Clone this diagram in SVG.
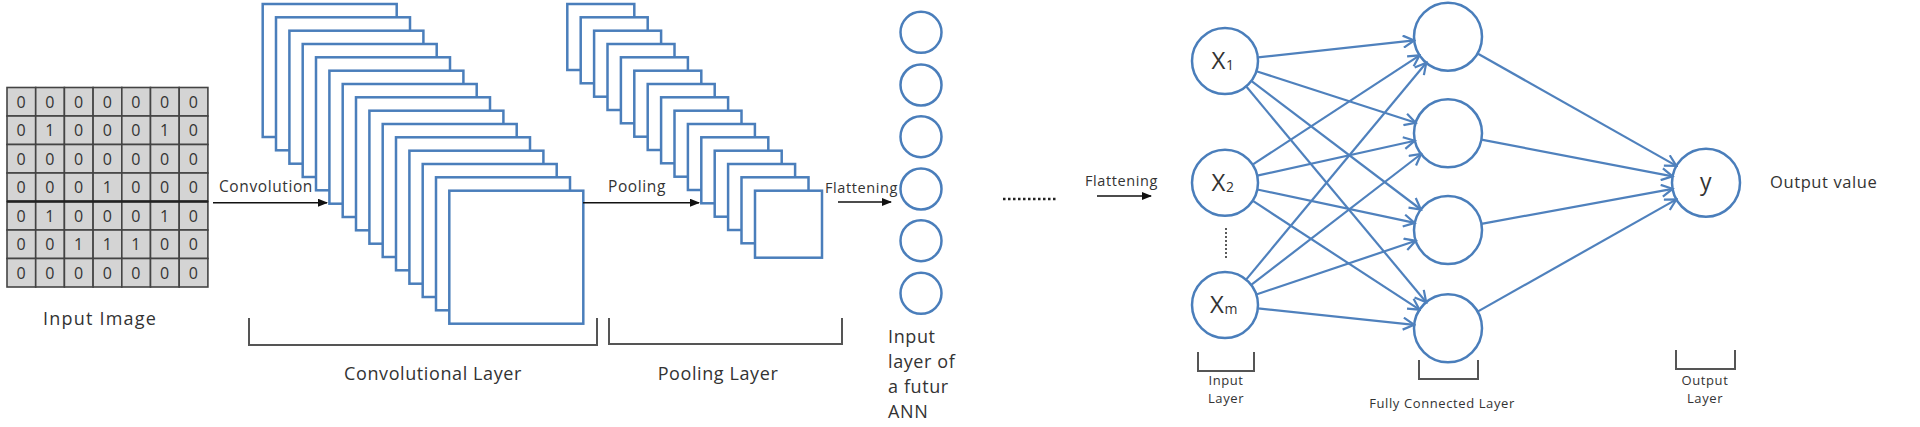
<svg xmlns="http://www.w3.org/2000/svg" width="1920" height="427" viewBox="0 0 1920 427">
<defs>
<style>
text{font-family:"Open Sans","Liberation Sans",sans-serif;fill:#333;letter-spacing:0.6px}
.cell{fill:#d4d4d4;stroke:#444;stroke-width:1.6}
.dg{font-size:16px;text-anchor:middle}
.fm{fill:#fff;stroke:#4a7ebb;stroke-width:2.5}
.nd{fill:#fff;stroke:#4a7ebb;stroke-width:2.5}
.br{fill:none;stroke:#555;stroke-width:2}
.blk{stroke:#111;stroke-width:1.6;fill:none;marker-end:url(#tri)}
.ed{stroke:#4f81bd;stroke-width:2.2;fill:none;marker-end:url(#chev)}
.lab{font-size:18px;text-anchor:middle}
.sm{font-size:13px;text-anchor:middle}
</style>
<marker id="tri" markerWidth="10" markerHeight="8" refX="9" refY="4" orient="auto" markerUnits="userSpaceOnUse"><path d="M0,0 L10,4 L0,8 Z" fill="#111"/></marker>
<marker id="chev" markerWidth="14" markerHeight="14" refX="12" refY="7" orient="auto" markerUnits="userSpaceOnUse"><path d="M1,1 L12,7 L1,13" fill="none" stroke="#4f81bd" stroke-width="2.2"/></marker>
</defs>
<rect width="1920" height="427" fill="#fff"/>

<g id="input-image">
<g id="grid">
<rect class="cell" x="7" y="87.5" width="28.7" height="28.5"/><rect class="cell" x="35.7" y="87.5" width="28.7" height="28.5"/><rect class="cell" x="64.4" y="87.5" width="28.7" height="28.5"/><rect class="cell" x="93.1" y="87.5" width="28.7" height="28.5"/><rect class="cell" x="121.8" y="87.5" width="28.7" height="28.5"/><rect class="cell" x="150.5" y="87.5" width="28.7" height="28.5"/><rect class="cell" x="179.2" y="87.5" width="28.7" height="28.5"/>
<rect class="cell" x="7" y="116" width="28.7" height="28.5"/><rect class="cell" x="35.7" y="116" width="28.7" height="28.5"/><rect class="cell" x="64.4" y="116" width="28.7" height="28.5"/><rect class="cell" x="93.1" y="116" width="28.7" height="28.5"/><rect class="cell" x="121.8" y="116" width="28.7" height="28.5"/><rect class="cell" x="150.5" y="116" width="28.7" height="28.5"/><rect class="cell" x="179.2" y="116" width="28.7" height="28.5"/>
<rect class="cell" x="7" y="144.5" width="28.7" height="28.5"/><rect class="cell" x="35.7" y="144.5" width="28.7" height="28.5"/><rect class="cell" x="64.4" y="144.5" width="28.7" height="28.5"/><rect class="cell" x="93.1" y="144.5" width="28.7" height="28.5"/><rect class="cell" x="121.8" y="144.5" width="28.7" height="28.5"/><rect class="cell" x="150.5" y="144.5" width="28.7" height="28.5"/><rect class="cell" x="179.2" y="144.5" width="28.7" height="28.5"/>
<rect class="cell" x="7" y="173" width="28.7" height="28.5"/><rect class="cell" x="35.7" y="173" width="28.7" height="28.5"/><rect class="cell" x="64.4" y="173" width="28.7" height="28.5"/><rect class="cell" x="93.1" y="173" width="28.7" height="28.5"/><rect class="cell" x="121.8" y="173" width="28.7" height="28.5"/><rect class="cell" x="150.5" y="173" width="28.7" height="28.5"/><rect class="cell" x="179.2" y="173" width="28.7" height="28.5"/>
<rect class="cell" x="7" y="201.5" width="28.7" height="28.5"/><rect class="cell" x="35.7" y="201.5" width="28.7" height="28.5"/><rect class="cell" x="64.4" y="201.5" width="28.7" height="28.5"/><rect class="cell" x="93.1" y="201.5" width="28.7" height="28.5"/><rect class="cell" x="121.8" y="201.5" width="28.7" height="28.5"/><rect class="cell" x="150.5" y="201.5" width="28.7" height="28.5"/><rect class="cell" x="179.2" y="201.5" width="28.7" height="28.5"/>
<rect class="cell" x="7" y="230" width="28.7" height="28.5"/><rect class="cell" x="35.7" y="230" width="28.7" height="28.5"/><rect class="cell" x="64.4" y="230" width="28.7" height="28.5"/><rect class="cell" x="93.1" y="230" width="28.7" height="28.5"/><rect class="cell" x="121.8" y="230" width="28.7" height="28.5"/><rect class="cell" x="150.5" y="230" width="28.7" height="28.5"/><rect class="cell" x="179.2" y="230" width="28.7" height="28.5"/>
<rect class="cell" x="7" y="258.5" width="28.7" height="28.5"/><rect class="cell" x="35.7" y="258.5" width="28.7" height="28.5"/><rect class="cell" x="64.4" y="258.5" width="28.7" height="28.5"/><rect class="cell" x="93.1" y="258.5" width="28.7" height="28.5"/><rect class="cell" x="121.8" y="258.5" width="28.7" height="28.5"/><rect class="cell" x="150.5" y="258.5" width="28.7" height="28.5"/><rect class="cell" x="179.2" y="258.5" width="28.7" height="28.5"/>
<line x1="7" y1="201.5" x2="208" y2="201.5" stroke="#222" stroke-width="2.4"/>
</g>
<g class="dg">
<text x="21.4" y="107.5">0</text><text x="50.1" y="107.5">0</text><text x="78.8" y="107.5">0</text><text x="107.5" y="107.5">0</text><text x="136.2" y="107.5">0</text><text x="164.9" y="107.5">0</text><text x="193.6" y="107.5">0</text>
<text x="21.4" y="136">0</text><text x="50.1" y="136">1</text><text x="78.8" y="136">0</text><text x="107.5" y="136">0</text><text x="136.2" y="136">0</text><text x="164.9" y="136">1</text><text x="193.6" y="136">0</text>
<text x="21.4" y="164.5">0</text><text x="50.1" y="164.5">0</text><text x="78.8" y="164.5">0</text><text x="107.5" y="164.5">0</text><text x="136.2" y="164.5">0</text><text x="164.9" y="164.5">0</text><text x="193.6" y="164.5">0</text>
<text x="21.4" y="193">0</text><text x="50.1" y="193">0</text><text x="78.8" y="193">0</text><text x="107.5" y="193">1</text><text x="136.2" y="193">0</text><text x="164.9" y="193">0</text><text x="193.6" y="193">0</text>
<text x="21.4" y="221.5">0</text><text x="50.1" y="221.5">1</text><text x="78.8" y="221.5">0</text><text x="107.5" y="221.5">0</text><text x="136.2" y="221.5">0</text><text x="164.9" y="221.5">1</text><text x="193.6" y="221.5">0</text>
<text x="21.4" y="250">0</text><text x="50.1" y="250">0</text><text x="78.8" y="250">1</text><text x="107.5" y="250">1</text><text x="136.2" y="250">1</text><text x="164.9" y="250">0</text><text x="193.6" y="250">0</text>
<text x="21.4" y="278.5">0</text><text x="50.1" y="278.5">0</text><text x="78.8" y="278.5">0</text><text x="107.5" y="278.5">0</text><text x="136.2" y="278.5">0</text><text x="164.9" y="278.5">0</text><text x="193.6" y="278.5">0</text>
</g>
<text class="lab" x="100" y="325" style="letter-spacing:1.2px">Input Image</text>
</g>

<g id="conv-layer">
<rect class="fm" x="262.7" y="4" width="134" height="133"/>
<rect class="fm" x="276" y="17.3" width="134" height="133"/>
<rect class="fm" x="289.4" y="30.7" width="134" height="133"/>
<rect class="fm" x="302.7" y="44" width="134" height="133"/>
<rect class="fm" x="316" y="57.3" width="134" height="133"/>
<rect class="fm" x="329.4" y="70.7" width="134" height="133"/>
<rect class="fm" x="342.7" y="84" width="134" height="133"/>
<rect class="fm" x="356" y="97.3" width="134" height="133"/>
<rect class="fm" x="369.4" y="110.7" width="134" height="133"/>
<rect class="fm" x="382.7" y="124" width="134" height="133"/>
<rect class="fm" x="396" y="137.3" width="134" height="133"/>
<rect class="fm" x="409.4" y="150.7" width="134" height="133"/>
<rect class="fm" x="422.7" y="164" width="134" height="133"/>
<rect class="fm" x="436" y="177.3" width="134" height="133"/>
<rect class="fm" x="449.3" y="190.7" width="134" height="133"/>
<path class="br" d="M249,318 V345 H597 V318"/>
<text class="lab" x="433" y="380">Convolutional Layer</text>
</g>

<g id="pooling-layer">
<rect class="fm" x="567.3" y="4" width="67" height="66"/>
<rect class="fm" x="580.7" y="17.3" width="67" height="66"/>
<rect class="fm" x="594.1" y="30.7" width="67" height="66"/>
<rect class="fm" x="607.5" y="44" width="67" height="66"/>
<rect class="fm" x="620.9" y="57.3" width="67" height="66"/>
<rect class="fm" x="634.3" y="70.7" width="67" height="66"/>
<rect class="fm" x="647.7" y="84" width="67" height="66"/>
<rect class="fm" x="661.1" y="97.3" width="67" height="66"/>
<rect class="fm" x="674.5" y="110.7" width="67" height="66"/>
<rect class="fm" x="687.9" y="124" width="67" height="66"/>
<rect class="fm" x="701.3" y="137.3" width="67" height="66"/>
<rect class="fm" x="714.7" y="150.7" width="67" height="66"/>
<rect class="fm" x="728.1" y="164" width="67" height="66"/>
<rect class="fm" x="741.5" y="177.3" width="67" height="66"/>
<rect class="fm" x="755" y="190.7" width="67" height="67"/>
<path class="br" d="M609,318 V344 H842 V318"/>
<text class="lab" x="718" y="380">Pooling Layer</text>
</g>

<g id="flattened-column">
<circle class="nd" cx="921" cy="32.3" r="20.5"/>
<circle class="nd" cx="921" cy="85" r="20.5"/>
<circle class="nd" cx="921" cy="136.7" r="20.5"/>
<circle class="nd" cx="921" cy="189" r="20.5"/>
<circle class="nd" cx="921" cy="240.7" r="20.5"/>
<circle class="nd" cx="921" cy="293.3" r="20.5"/>
<text font-size="18" x="888" y="343">Input</text>
<text font-size="18" x="888" y="368">layer of</text>
<text font-size="18" x="888" y="393">a futur</text>
<text font-size="18" x="888" y="418">ANN</text>
</g>

<g id="input-layer">
<g id="x1"><circle class="nd" cx="1225" cy="61" r="33"/><text x="1223" y="69" font-size="24" text-anchor="middle">X<tspan font-size="14" dy="1">1</tspan></text></g>
<g id="x2"><circle class="nd" cx="1225" cy="182.7" r="33"/><text x="1223" y="191" font-size="24" text-anchor="middle">X<tspan font-size="14" dy="1">2</tspan></text></g>
<g id="xm"><circle class="nd" cx="1225" cy="305" r="33"/><text x="1224" y="313" font-size="24" text-anchor="middle">X<tspan font-size="14" dy="1">m</tspan></text></g>
<line x1="1226" y1="228" x2="1226" y2="260" stroke="#333" stroke-width="1.6" stroke-dasharray="2 2"/>
<path class="br" d="M1198,352 V371 H1254 V352"/>
<text class="sm" x="1226" y="385">Input</text>
<text class="sm" x="1226" y="403">Layer</text>
</g>

<g id="hidden-layer">
<circle id="h1" class="nd" cx="1448" cy="36.7" r="34"/>
<circle id="h2" class="nd" cx="1448" cy="133.3" r="34"/>
<circle id="h3" class="nd" cx="1448" cy="230" r="34"/>
<circle id="h4" class="nd" cx="1448" cy="328.3" r="34"/>
<path class="br" d="M1419,360 V379 H1478 V360"/>
<text class="sm" x="1442" y="408">Fully Connected Layer</text>
</g>

<g id="output-layer">
<circle class="nd" cx="1706" cy="182.7" r="34"/>
<text x="1706" y="190" font-size="23" text-anchor="middle">y</text>
<text x="1770" y="188" font-size="16.5">Output value</text>
<path class="br" d="M1676,350 V369 H1735 V350"/>
<text class="sm" x="1705" y="385">Output</text>
<text class="sm" x="1705" y="403">Layer</text>
</g>

<g id="connectors">
<line class="blk" x1="213" y1="202.7" x2="327" y2="202.7"/>
<text x="219" y="192" font-size="15.5">Convolution</text>
<line class="blk" x1="583" y1="202.7" x2="699" y2="202.7"/>
<text x="608" y="192" font-size="15.5">Pooling</text>
<line class="blk" x1="838" y1="202" x2="891" y2="202"/>
<text x="825" y="193" font-size="14.5">Flattening</text>
<line x1="1003" y1="199" x2="1057" y2="199" stroke="#222" stroke-width="2.5" stroke-dasharray="2.5 2.5"/>
<line class="blk" x1="1097" y1="196" x2="1151" y2="196"/>
<text x="1085" y="186" font-size="14.5">Flattening</text>
<line class="ed" x1="1257.8" y1="57.4" x2="1414.2" y2="40.4"/>
<line class="ed" x1="1256.4" y1="71.2" x2="1415.7" y2="122.8"/>
<line class="ed" x1="1251.3" y1="80.9" x2="1420.9" y2="209.5"/>
<line class="ed" x1="1246.1" y1="86.3" x2="1426.2" y2="302.2"/>
<line class="ed" x1="1252.6" y1="164.6" x2="1419.6" y2="55.3"/>
<line class="ed" x1="1257.2" y1="175.6" x2="1414.8" y2="140.7"/>
<line class="ed" x1="1257.3" y1="189.5" x2="1414.7" y2="222.9"/>
<line class="ed" x1="1252.6" y1="200.7" x2="1419.5" y2="309.7"/>
<line class="ed" x1="1246.1" y1="279.6" x2="1426.3" y2="62.8"/>
<line class="ed" x1="1251.2" y1="284.9" x2="1421.1" y2="154"/>
<line class="ed" x1="1256.3" y1="294.5" x2="1415.8" y2="240.8"/>
<line class="ed" x1="1257.8" y1="308.4" x2="1414.2" y2="324.8"/>
<line class="ed" x1="1477.6" y1="53.5" x2="1676.4" y2="165.9"/>
<line class="ed" x1="1481.4" y1="139.7" x2="1672.6" y2="176.3"/>
<line class="ed" x1="1481.4" y1="223.9" x2="1672.6" y2="188.8"/>
<line class="ed" x1="1477.6" y1="311.6" x2="1676.4" y2="199.4"/>
</g>
</svg>
